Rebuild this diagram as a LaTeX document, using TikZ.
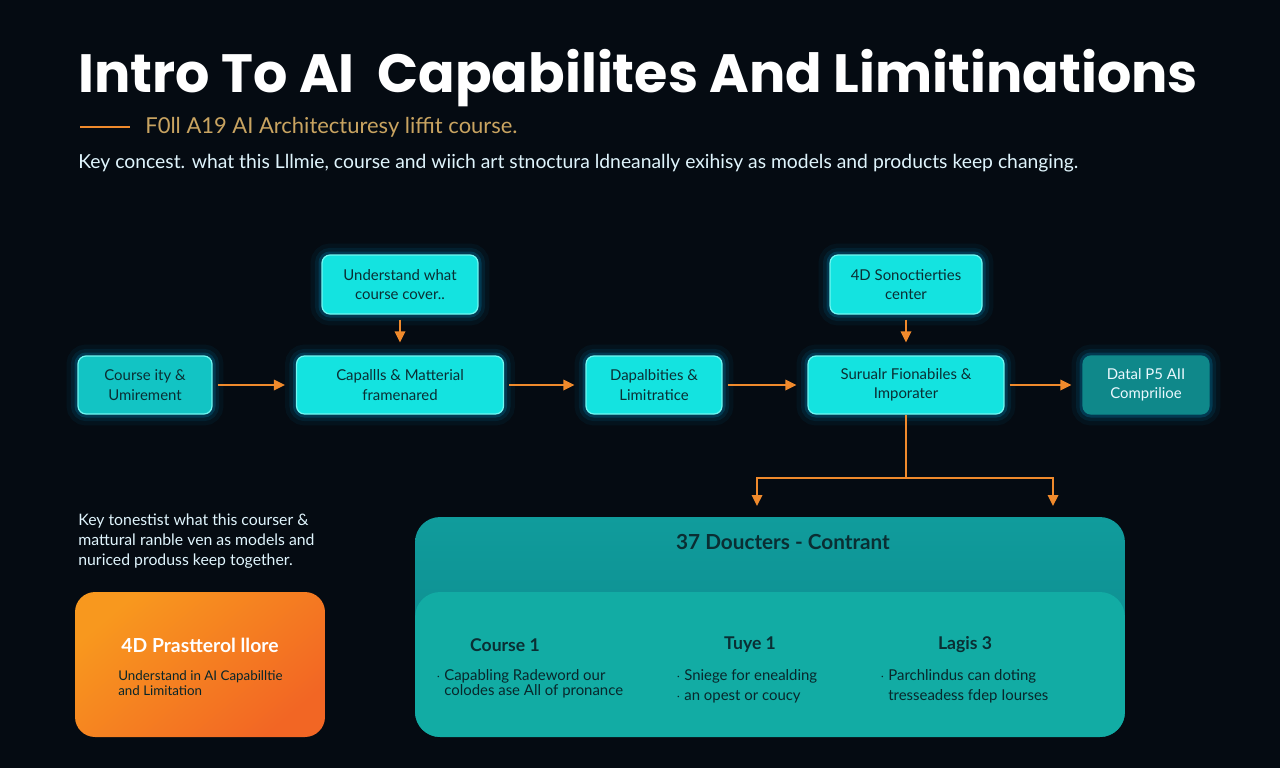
\documentclass[tikz,border=0pt]{standalone}
\usepackage{fontspec}
\setmainfont{Lato}
\newfontfamily\headfont{Poppins}
\usetikzlibrary{arrows.meta}
\definecolor{bgnavy}{HTML}{050B12}
\definecolor{cyanbox}{HTML}{14E3E0}
\definecolor{cyanrim}{HTML}{72F7F2}
\definecolor{tealbox}{HTML}{12C4C4}
\definecolor{tealdark}{HTML}{0F888A}
\definecolor{flow}{HTML}{F08A2C}
\definecolor{gold}{HTML}{C9A461}
\definecolor{ink}{HTML}{0A2E33}
\definecolor{orangeA}{HTML}{F8981E}
\definecolor{orangeB}{HTML}{F26624}
\definecolor{panelA}{HTML}{109C9C}
\definecolor{panelB}{HTML}{0C8589}
\definecolor{panelC}{HTML}{12ACA4}
\newcommand\fsz[1]{\fontsize{#1}{1.25\dimexpr#1pt\relax}\selectfont}

\begin{document}
\begin{tikzpicture}[x=0.02cm, y=-0.02cm,
  box/.style = {draw=cyanrim, line width=0.7pt, fill=cyanbox, rounded corners=1.6mm,
    align=center, text=ink, font=\fontsize{8.5}{11}\selectfont, inner sep=0pt, minimum height=1.16cm,
    preaction={draw=cyan, line width=13pt, opacity=0.05},
    preaction={draw=cyan, line width=8pt, opacity=0.09},
    preaction={draw=cyan, line width=4pt, opacity=0.18}},
  link/.style = {draw=flow, line width=1pt, -{Triangle[length=2.2mm,width=2.1mm]},
    shorten <=1mm, shorten >=2.2mm},
  drop/.style = {draw=flow, line width=1pt, -{Triangle[length=2.2mm,width=2.1mm]}},
  note/.style = {text=white!88!cyan, align=left, inner sep=0pt}]
	\fill[bgnavy] (0,0) rectangle (1280,768);
	\useasboundingbox (0,0) rectangle (1280,768);
	\node[anchor=base west, inner sep=0pt, text=white, font=\headfont\bfseries\fsz{30.7}] (title) at (78,92) {Intro To AI \ Capabilites And Limitinations};
	\node[anchor=west, inner sep=0pt, text=gold, font=\fsz{12.5}] (sub) at (145,127) {F0ll A19 AI Architecturesy liffit course.};
	\draw[flow, line width=1.2pt] (80,127) -- (130,127);
	\node[note, anchor=west, font=\fsz{11}] (intro) at (78,163) {Key concest. what this Lllmie, course and wiich art stnoctura ldneanally exihisy as models and products keep changing.};
	\node[box, minimum width=3.12cm, minimum height=1.18cm] (U) at (400,284.5) {Understand what\\course cover..};
	\node[box, minimum width=3.04cm, minimum height=1.18cm] (S) at (906,284.5) {4D Sonoctierties\\center};
	\node[box, fill=tealbox, minimum width=2.68cm] (A) at (145,385) {Course ity \&\\Umirement};
	\node[box, minimum width=4.14cm] (B) at (400,385) {Capallls \& Matterial\\framenared};
	\node[box, minimum width=2.72cm] (C) at (654,385) {Dapalbities \&\\Limitratice};
	\node[box, minimum width=3.92cm] (D) at (906,385) {Surualr Fionabiles \&\\Imporater};
	\node[box, fill=tealdark, draw=tealdark, text=white!92!cyan, preaction={}, minimum width=2.52cm] (E) at (1146,385) {Datal P5 AII\\Comprilioe};
	\draw[link] (A) -- (B);
	\draw[link] (B) -- (C);
	\draw[link] (C) -- (D);
	\draw[link] (D) -- (E);
	\draw[link, shorten >=2.6mm] (U) -- (B);
	\draw[link, shorten >=2.6mm] (S) -- (D);
	\coordinate (fork) at (906,478);
	\coordinate (dropL) at (757,506);
	\coordinate (dropR) at (1053,506);
	\draw[flow, line width=1pt] (D.south) -- (fork);
	\draw[drop] (fork) -| (dropL);
	\draw[drop] (fork) -| (dropR);
	\node[note, anchor=north west, font=\fontsize{9}{11.4}\selectfont] (aside) at (78,513) {Key tonestist what this courser \&\\mattural ranble ven as models and\\nuriced produss keep together.};
	\node[rounded corners=4mm, minimum width=5cm, minimum height=2.9cm, top color=orangeA, bottom color=orangeB, shading angle=40] (promo) at (200,664.5) {};
	\node[inner sep=0pt, text=white, font=\bfseries\fsz{11}] (promohead) at (200,645) {4D Prastterol llore};
	\node[anchor=north west, inner sep=0pt, align=left, text=ink!80!black, font=\fontsize{7.6}{8.6}\selectfont] (promotext) at (118,670) {Understand in AI Capabilltie\\and Limitation};
	\node[rounded corners=5mm, minimum width=14.2cm, minimum height=4.4cm, top color=panelA, bottom color=panelB] (panel) at (770,627) {};
	\node[rounded corners=5mm, minimum width=14.2cm, minimum height=2.9cm, fill=panelC] (inner) at (770,664.5) {};
	\node[inner sep=0pt, text=ink, font=\bfseries\fsz{11.8}] (paneltitle) at (783,542) {37 Doucters - Contrant};
	\node[inner sep=0pt, text=ink, font=\bfseries\fsz{10}] (colA) at (505,645) {Course 1};
	\node[inner sep=0pt, text=ink, font=\bfseries\fsz{10}] (colB) at (750,645) {Tuye 1};
	\node[inner sep=0pt, text=ink, font=\bfseries\fsz{10}] (colC) at (965,645) {Lagis 3};
	\node[anchor=north west, inner sep=0pt, align=left, text=ink!85!black, font=\fontsize{8.5}{8.7}\selectfont] (itemsA) at (436,669) {$\cdot$\ Capabling Radeword our\\\phantom{$\cdot$\ }colodes ase All of pronance};
	\node[anchor=north west, inner sep=0pt, align=left, text=ink!85!black, font=\fontsize{8.5}{11.4}\selectfont] (itemsB) at (676,669) {$\cdot$\ Sniege for enealding\\$\cdot$\ an opest or coucy};
	\node[anchor=north west, inner sep=0pt, align=left, text=ink!85!black, font=\fontsize{8.5}{11.4}\selectfont] (itemsC) at (880,669) {$\cdot$\ Parchlindus can doting\\\phantom{$\cdot$\ }tresseadess fdep Iourses};
\end{tikzpicture}
\end{document}
